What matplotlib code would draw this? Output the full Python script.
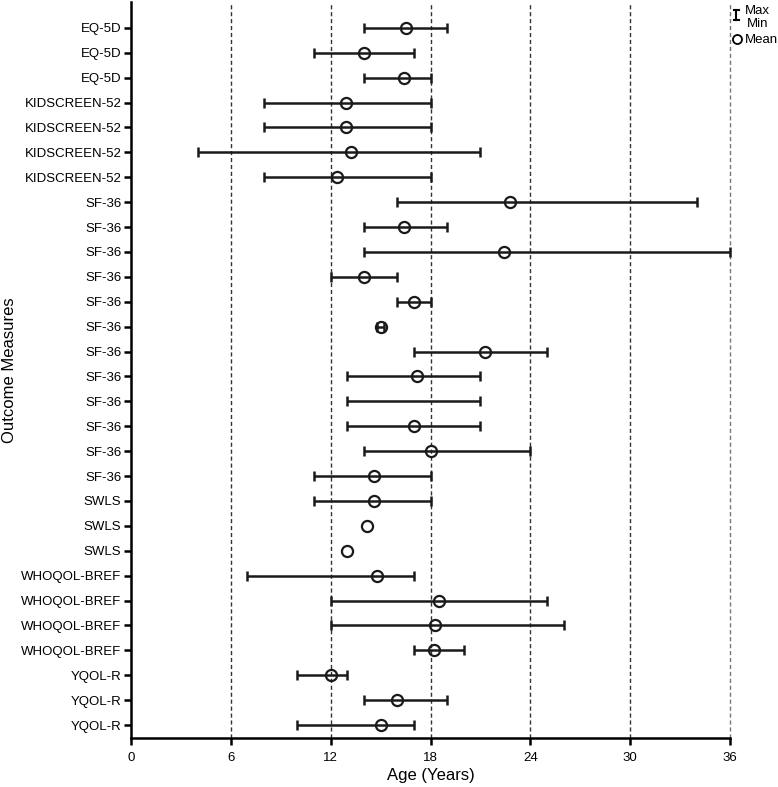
import numpy as np
import matplotlib
matplotlib.use("Agg")
import matplotlib.pyplot as plt
from matplotlib.lines import Line2D

plt.rcParams['font.family'] = ['Liberation Sans', 'DejaVu Sans']

measures = ["EQ-5D", "EQ-5D", "EQ-5D",
            "KIDSCREEN-52", "KIDSCREEN-52", "KIDSCREEN-52", "KIDSCREEN-52",
            "SF-36", "SF-36", "SF-36", "SF-36", "SF-36", "SF-36",
            "SF-36", "SF-36", "SF-36", "SF-36", "SF-36", "SF-36",
            "SWLS", "SWLS", "SWLS",
            "WHOQOL-BREF", "WHOQOL-BREF", "WHOQOL-BREF", "WHOQOL-BREF",
            "YQOL-R", "YQOL-R", "YQOL-R"]
age_min = [14, 11, 14,
           8, 8, 4, 8,
           16, 14, 14, 12, 16, 14.8,
           17, 13, 13, 13, 14, 11,
           11, np.nan, np.nan,
           7, 12, 12, 17,
           10, 14, 10]
age_mean = [16.5, 14.0, 16.4,
            12.9, 12.9, 13.2, 12.4,
            22.8, 16.4, 22.4, 14.0, 17.0, 15.0,
            21.3, 17.2, np.nan, 17.0, 18.0, 14.6,
            14.6, 14.2, 13.0,
            14.8, 18.5, 18.3, 18.2,
            12.0, 16.0, 15.0]
age_max = [19, 17, 18,
           18, 18, 21, 18,
           34, 19, 36, 16, 18, 15.2,
           25, 21, 21, 21, 24, 18,
           18, np.nan, np.nan,
           17, 25, 26, 20,
           13, 19, 17]

x_ticks = [0, 6, 12, 18, 24, 30, 36]

fig = plt.figure(figsize=(7.78, 7.87), dpi=100)
ax = fig.add_axes([131 / 778, 49 / 787, 599 / 778, 736 / 787])

y = np.arange(len(measures))

for xv in x_ticks[1:]:
    c = '#333333' if xv < 36 else '#777777'
    ax.axvline(xv, color=c, lw=1, ls=(0, (3, 2)), zorder=1, clip_on=False)

ax.hlines(y, age_min, age_max, color='#1a1a1a', lw=1.8, zorder=2, clip_on=False)
ax.plot(age_min, y, ls='none', marker='|', ms=7, mew=1.8, color='#1a1a1a',
        zorder=2, clip_on=False)
ax.plot(age_max, y, ls='none', marker='|', ms=7, mew=1.8, color='#1a1a1a',
        zorder=2, clip_on=False)
ax.plot(age_mean, y, ls='none', marker='o', ms=8, mfc='none', mec='#1a1a1a',
        mew=1.6, zorder=3)

ax.set_xlim(0, 36)
ax.set_ylim(len(measures) - 1 + 0.52, -1.04)
ax.set_xticks(x_ticks)
ax.set_yticks(y)
ax.set_yticklabels(measures)
ax.tick_params(axis='y', labelsize=9.5, length=5, width=1.8, direction='out',
               pad=2)
ax.tick_params(axis='x', labelsize=9.5, length=5, width=1.8, direction='out',
               pad=5)
ax.set_xlabel("Age (Years)", fontsize=12, labelpad=3)
ax.set_ylabel("Outcome Measures", fontsize=12)
ax.yaxis.set_label_coords(-0.19, 0.5)

for s in ['top', 'right']:
    ax.spines[s].set_visible(False)
for s in ['left', 'bottom']:
    ax.spines[s].set_linewidth(1.8)

# legend drawn by hand in the top right corner
fig.add_artist(Line2D([736 / 778, 736 / 778], [1 - 10 / 787, 1 - 20 / 787],
                      color='black', lw=1.5))
fig.add_artist(Line2D([733.5 / 778, 738.5 / 778], [1 - 10 / 787, 1 - 10 / 787],
                      color='black', lw=1.5))
fig.add_artist(Line2D([733.5 / 778, 738.5 / 778], [1 - 20 / 787, 1 - 20 / 787],
                      color='black', lw=1.5))
fig.text(757 / 778, 1 - 11 / 787, "Max", ha='center', va='center', fontsize=9.5)
fig.text(758 / 778, 1 - 24 / 787, "Min", ha='center', va='center', fontsize=9.5)
fig.add_artist(Line2D([737 / 778], [1 - 39 / 787], marker='o', ms=6.5,
                      mfc='none', mec='black', mew=1.3))
fig.text(745 / 778, 1 - 40 / 787, "Mean", ha='left', va='center', fontsize=9.5)

fig.savefig("out.png", dpi=100)
